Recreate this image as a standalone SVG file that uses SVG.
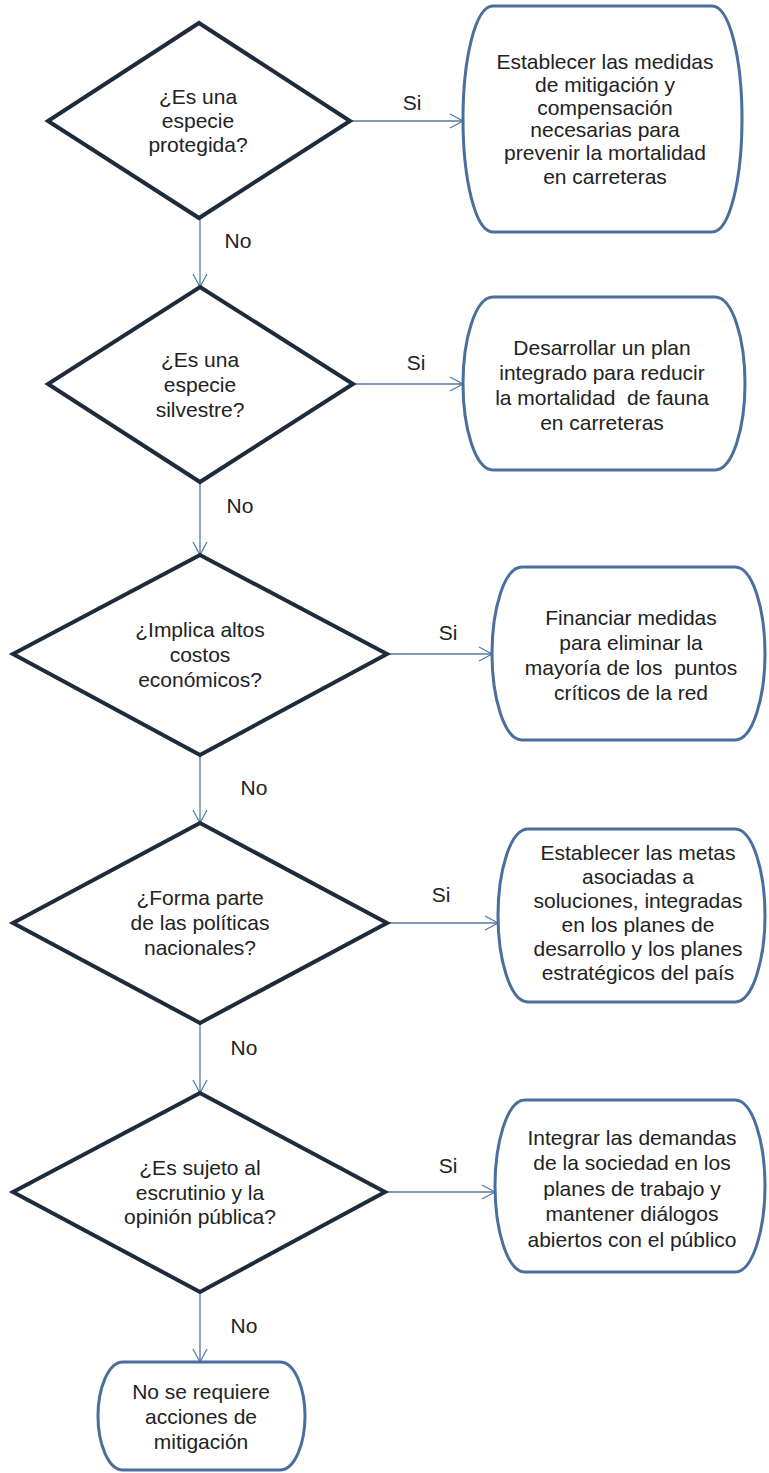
<svg xmlns="http://www.w3.org/2000/svg" width="769" height="1473" viewBox="0 0 769 1473">
<style>
.bg{fill:#ffffff}
.dia{fill:#ffffff;stroke:#1f2b3a;stroke-width:4;stroke-linejoin:miter}
.box{fill:#ffffff;stroke:#4a6e9e;stroke-width:3}
.con{stroke:#5679a0;stroke-width:1.3;fill:none}
text{font-family:"Liberation Sans",Arial,sans-serif;font-size:21px;fill:#222222;text-anchor:middle;white-space:pre}
</style>
<defs>
<marker id="arr" markerUnits="userSpaceOnUse" markerWidth="16" markerHeight="16" viewBox="0 0 16 16" refX="14" refY="8" orient="auto">
<path d="M1,1 L14,8 L1,15" fill="none" stroke="#5679a0" stroke-width="1.3"/>
</marker>
</defs>
<rect class="bg" x="0" y="0" width="769" height="1473"/>
<g id="connectors">
<line class="con" x1="350" y1="121" x2="463" y2="121" marker-end="url(#arr)"/>
<line class="con" x1="200" y1="218" x2="200" y2="287" marker-end="url(#arr)"/>
<line class="con" x1="353" y1="384" x2="463" y2="384" marker-end="url(#arr)"/>
<line class="con" x1="200" y1="482" x2="200" y2="555" marker-end="url(#arr)"/>
<line class="con" x1="387" y1="654" x2="492" y2="654" marker-end="url(#arr)"/>
<line class="con" x1="200" y1="755" x2="200" y2="823" marker-end="url(#arr)"/>
<line class="con" x1="387" y1="923" x2="498" y2="923" marker-end="url(#arr)"/>
<line class="con" x1="200" y1="1023" x2="200" y2="1093" marker-end="url(#arr)"/>
<line class="con" x1="385" y1="1192" x2="495" y2="1192" marker-end="url(#arr)"/>
<line class="con" x1="200" y1="1292" x2="200" y2="1362" marker-end="url(#arr)"/>
<text x="412" y="110">Si</text>
<text x="238" y="248">No</text>
<text x="416" y="370">Si</text>
<text x="240" y="513">No</text>
<text x="448" y="640">Si</text>
<text x="254" y="795">No</text>
<text x="441" y="902">Si</text>
<text x="244" y="1055">No</text>
<text x="448" y="1173">Si</text>
<text x="244" y="1333">No</text>
</g>
<g id="d1">
<polygon class="dia" points="199,23 350,121 199,218 48,121"/>
<text x="198" y="104">¿Es una</text>
<text x="198" y="128">especie</text>
<text x="198" y="152">protegida?</text>
</g>
<g id="b1">
<path class="box" d="M493,6 H712 C730,6 742,60 742,119 C742,178 730,232 712,232 H493 C475,232 463,178 463,119 C463,60 475,6 493,6 Z"/>
<text x="605" y="69">Establecer las medidas</text>
<text x="605" y="92">de mitigación y</text>
<text x="605" y="115">compensación</text>
<text x="605" y="137">necesarias para</text>
<text x="605" y="160">prevenir la mortalidad</text>
<text x="605" y="184">en carreteras</text>
</g>
<g id="d2">
<polygon class="dia" points="200,287 353,384 200,482 48,384"/>
<text x="200" y="367">¿Es una</text>
<text x="200" y="392">especie</text>
<text x="200" y="417">silvestre?</text>
</g>
<g id="b2">
<path class="box" d="M493,297 H715 C733,297 745,340 745,383.5 C745,427 733,470 715,470 H493 C475,470 463,427 463,383.5 C463,340 475,297 493,297 Z"/>
<text x="602" y="355">Desarrollar un plan</text>
<text x="602" y="380">integrado para reducir</text>
<text x="602" y="405">la mortalidad  de fauna</text>
<text x="602" y="430">en carreteras</text>
</g>
<g id="d3">
<polygon class="dia" points="200,555 387,654 200,755 13,654"/>
<text x="200" y="637">¿Implica altos</text>
<text x="200" y="662">costos</text>
<text x="200" y="687">económicos?</text>
</g>
<g id="b3">
<path class="box" d="M522,567 H735 C753,567 765,610 765,653.5 C765,697 753,740 735,740 H522 C504,740 492,697 492,653.5 C492,610 504,567 522,567 Z"/>
<text x="631" y="625">Financiar medidas</text>
<text x="631" y="650">para eliminar la</text>
<text x="631" y="675">mayoría de los  puntos</text>
<text x="631" y="700">críticos de la red</text>
</g>
<g id="d4">
<polygon class="dia" points="200,823 387,923 200,1023 13,923"/>
<text x="200" y="905">¿Forma parte</text>
<text x="200" y="930">de las políticas</text>
<text x="200" y="955">nacionales?</text>
</g>
<g id="b4">
<path class="box" d="M528,829 H735 C753,829 765,872 765,915.5 C765,959 753,1002 735,1002 H528 C510,1002 498,959 498,915.5 C498,872 510,829 528,829 Z"/>
<text x="638" y="860">Establecer las metas</text>
<text x="638" y="884">asociadas a</text>
<text x="638" y="908">soluciones, integradas</text>
<text x="638" y="932">en los planes de</text>
<text x="638" y="956">desarrollo y los planes</text>
<text x="638" y="980">estratégicos del país</text>
</g>
<g id="d5">
<polygon class="dia" points="200,1093 385,1192 200,1292 13,1192"/>
<text x="200" y="1175">¿Es sujeto al</text>
<text x="200" y="1200">escrutinio y la</text>
<text x="200" y="1224">opinión pública?</text>
</g>
<g id="b5">
<path class="box" d="M525,1100 H735 C753,1100 765,1143 765,1186 C765,1229 753,1272 735,1272 H525 C507,1272 495,1229 495,1186 C495,1143 507,1100 525,1100 Z"/>
<text x="632" y="1145">Integrar las demandas</text>
<text x="632" y="1170">de la sociedad en los</text>
<text x="632" y="1196">planes de trabajo y</text>
<text x="632" y="1221">mantener diálogos</text>
<text x="632" y="1247">abiertos con el público</text>
</g>
<g id="b6">
<path class="box" d="M123,1362 H280 C295,1362 305,1389 305,1416 C305,1443 295,1470 280,1470 H123 C108,1470 98,1443 98,1416 C98,1389 108,1362 123,1362 Z"/>
<text x="201" y="1399">No se requiere</text>
<text x="201" y="1424">acciones de</text>
<text x="201" y="1449">mitigación</text>
</g>
</svg>
